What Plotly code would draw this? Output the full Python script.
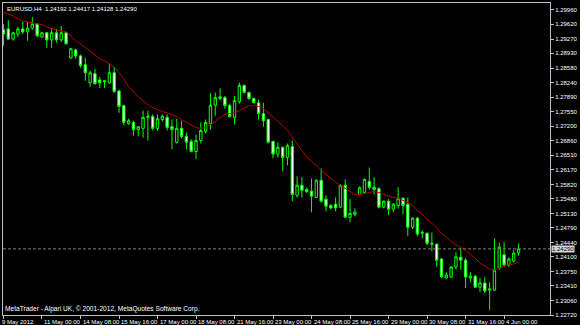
import plotly.graph_objects as go

symbol = "EURUSD,H4"

opens = [
    1.2949, 1.2951, 1.2927, 1.2939, 1.2951, 1.2944, 1.2953, 1.2963, 1.2932, 1.2942,
    1.2925, 1.2942, 1.2925, 1.2942, 1.2882, 1.2901, 1.2887, 1.2866, 1.2823, 1.2845,
    1.2830, 1.2828, 1.2823, 1.2847, 1.2804, 1.2769, 1.2726, 1.2729, 1.2712, 1.2715,
    1.2741, 1.2743, 1.2715, 1.2736, 1.2741, 1.2719, 1.2682, 1.2715, 1.2696, 1.2684,
    1.2660, 1.2686, 1.2708, 1.2726, 1.2770, 1.2786, 1.2788, 1.2769, 1.2741, 1.2778,
    1.2817, 1.2800, 1.2786, 1.2776, 1.2750, 1.2736, 1.2684, 1.2654, 1.2670, 1.2646,
    1.2672, 1.2556, 1.2580, 1.2570, 1.2566, 1.2551, 1.2592, 1.2547, 1.2532, 1.2535,
    1.2528, 1.2580, 1.2504, 1.2511, 1.2558, 1.2563, 1.2589, 1.2575, 1.2572, 1.2528,
    1.2542, 1.2523, 1.2532, 1.2549, 1.2535, 1.2480, 1.2502, 1.2466, 1.2466, 1.2440,
    1.2440, 1.2405, 1.2360, 1.2362, 1.2386, 1.2409, 1.2402, 1.2360, 1.2364, 1.2338,
    1.2348, 1.2331, 1.2331, 1.2383, 1.2415, 1.2391, 1.2400, 1.24192]

highs = [
    1.2962, 1.2972, 1.2944, 1.2956, 1.2968, 1.2968, 1.2979, 1.2965, 1.2944, 1.2944,
    1.2953, 1.2951, 1.2958, 1.2944, 1.2906, 1.2904, 1.2890, 1.2882, 1.2852, 1.2856,
    1.2837, 1.2830, 1.2868, 1.2861, 1.2807, 1.2771, 1.2738, 1.2733, 1.2719, 1.2757,
    1.2757, 1.2748, 1.2748, 1.2748, 1.2748, 1.2736, 1.2738, 1.2733, 1.2705, 1.2689,
    1.2700, 1.2729, 1.2736, 1.2798, 1.2800, 1.2810, 1.2792, 1.2774, 1.2792, 1.2824,
    1.2819, 1.2802, 1.2788, 1.2783, 1.2776, 1.2738, 1.2686, 1.2682, 1.2672, 1.2679,
    1.2686, 1.2601, 1.2599, 1.2575, 1.2596, 1.2594, 1.2620, 1.2556, 1.2535, 1.2551,
    1.2582, 1.2594, 1.2547, 1.2525, 1.2577, 1.2596, 1.2622, 1.2599, 1.2575, 1.2544,
    1.2547, 1.2537, 1.2575, 1.2551, 1.2551, 1.2504, 1.2504, 1.2473, 1.2468, 1.2468,
    1.2442, 1.2407, 1.2374, 1.2388, 1.2421, 1.2430, 1.2407, 1.2374, 1.2367, 1.2360,
    1.2362, 1.2350, 1.2454, 1.2444, 1.2445, 1.2409, 1.2426, 1.24417]

lows = [
    1.2911, 1.2925, 1.2923, 1.2932, 1.2939, 1.2923, 1.2949, 1.2932, 1.2930, 1.2906,
    1.2906, 1.2918, 1.2920, 1.2913, 1.2880, 1.2880, 1.2859, 1.2828, 1.2814, 1.2819,
    1.2811, 1.2811, 1.2821, 1.2800, 1.2752, 1.2722, 1.2724, 1.2698, 1.2696, 1.2693,
    1.2686, 1.2710, 1.2710, 1.2731, 1.2710, 1.2665, 1.2679, 1.2691, 1.2665, 1.2658,
    1.2642, 1.2679, 1.2703, 1.2712, 1.2745, 1.2782, 1.2762, 1.2741, 1.2724, 1.2774,
    1.2798, 1.2782, 1.2774, 1.2736, 1.2719, 1.2679, 1.2644, 1.2646, 1.2613, 1.2627,
    1.2542, 1.2551, 1.2551, 1.2561, 1.2516, 1.2550, 1.2539, 1.2518, 1.2523, 1.2518,
    1.2526, 1.2503, 1.2492, 1.2506, 1.2556, 1.2561, 1.2570, 1.2558, 1.2525, 1.2525,
    1.2509, 1.2516, 1.2525, 1.2511, 1.2459, 1.2476, 1.2459, 1.2454, 1.2438, 1.2423,
    1.2386, 1.2360, 1.2357, 1.2360, 1.2381, 1.2379, 1.2336, 1.2350, 1.2336, 1.2326,
    1.2324, 1.2284, 1.2329, 1.2379, 1.2386, 1.2386, 1.2397, 1.24128]

closes = [
    1.2939, 1.2927, 1.2942, 1.2951, 1.2944, 1.2953, 1.2963, 1.2935, 1.2942, 1.2925,
    1.2942, 1.2925, 1.2942, 1.2916, 1.2904, 1.2887, 1.2864, 1.2847, 1.2847, 1.2821,
    1.2823, 1.2826, 1.2847, 1.2802, 1.2767, 1.2729, 1.2733, 1.2712, 1.2719, 1.2741,
    1.2744, 1.2715, 1.2738, 1.2744, 1.2717, 1.2712, 1.2715, 1.2696, 1.2682, 1.2660,
    1.2686, 1.2710, 1.2729, 1.2770, 1.2788, 1.2790, 1.2769, 1.2743, 1.2781, 1.2817,
    1.2800, 1.2786, 1.2776, 1.2750, 1.2733, 1.2682, 1.2654, 1.2670, 1.2646, 1.2674,
    1.2558, 1.2580, 1.2568, 1.2565, 1.2554, 1.2592, 1.2542, 1.2530, 1.2526, 1.2526,
    1.2580, 1.2504, 1.2513, 1.2516, 1.2574, 1.2594, 1.2575, 1.2570, 1.2528, 1.2542,
    1.2523, 1.2535, 1.2549, 1.2532, 1.2480, 1.2502, 1.2464, 1.2468, 1.2442, 1.2442,
    1.2402, 1.2363, 1.2367, 1.2386, 1.2410, 1.2402, 1.2362, 1.2364, 1.2338, 1.2348,
    1.2329, 1.2334, 1.2378, 1.2433, 1.2391, 1.2405, 1.2419, 1.24290]

ma_values = [
    1.2991, 1.2987, 1.2982, 1.2975, 1.2970, 1.2968, 1.2965, 1.2963, 1.2961, 1.2956,
    1.2951, 1.2949, 1.2946, 1.2944, 1.2935, 1.2923, 1.2916, 1.2906, 1.2899, 1.2889,
    1.2880, 1.2875, 1.2868, 1.2861, 1.2847, 1.2833, 1.2814, 1.2802, 1.2790, 1.2781,
    1.2771, 1.2764, 1.2759, 1.2755, 1.2752, 1.2748, 1.2743, 1.2736, 1.2729, 1.2722,
    1.2717, 1.2715, 1.2717, 1.2724, 1.2731, 1.2741, 1.2748, 1.2750, 1.2752, 1.2757,
    1.2764, 1.2769, 1.2769, 1.2767, 1.2762, 1.2752, 1.2743, 1.2733, 1.2722, 1.2710,
    1.2693, 1.2677, 1.2662, 1.2648, 1.2636, 1.2627, 1.2615, 1.2606, 1.2596, 1.2587,
    1.2580, 1.2572, 1.2565, 1.2558, 1.2558, 1.2561, 1.2563, 1.2565, 1.2563, 1.2558,
    1.2554, 1.2551, 1.2549, 1.2544, 1.2539, 1.2532, 1.2520, 1.2511, 1.2499, 1.2490,
    1.2478, 1.2466, 1.2457, 1.2447, 1.2438, 1.2433, 1.2426, 1.2416, 1.2407, 1.2395,
    1.2388, 1.2381, 1.2379, 1.2383, 1.2388, 1.2391, 1.2393, 1.2398]

time_tick_bars = [0, 8, 16, 24, 32, 40, 48, 56, 64, 72, 80, 88, 96, 104]
time_tick_labels = ["9 May 2012", "11 May 00:00", "14 May 08:00", "15 May 16:00",
                    "17 May 00:00", "18 May 08:00", "21 May 16:00", "23 May 00:00",
                    "24 May 08:00", "25 May 16:00", "29 May 00:00", "30 May 08:00",
                    "31 May 16:00", "4 Jun 00:00"]

price_ticks = [1.29960, 1.29620, 1.29270, 1.28930, 1.28580, 1.28240, 1.27890,
               1.27550, 1.27200, 1.26860, 1.26510, 1.26170, 1.25820, 1.25480,
               1.25130, 1.24790, 1.24440, 1.24100, 1.23750, 1.23410, 1.23060,
               1.22720]

copyright_text = "MetaTrader - Alpari UK, \u00a9 2001-2012, MetaQuotes Software Corp."

bars = list(range(len(closes)))
FONT = "Liberation Sans, Arial, sans-serif"
FG = "#C0C0C0"
TXT = "#FFFFFF"

fig = go.Figure()
fig.add_trace(go.Candlestick(
    x=bars, open=opens, high=highs, low=lows, close=closes,
    increasing=dict(line=dict(color="#00FF00", width=1), fillcolor="#000000"),
    decreasing=dict(line=dict(color="#00FF00", width=1), fillcolor="#FFFFFF"),
    whiskerwidth=0, hoverinfo="skip", showlegend=False))
fig.add_trace(go.Scatter(
    x=bars, y=ma_values, mode="lines",
    line=dict(color="#B00000", width=1), hoverinfo="skip", showlegend=False))

bid = closes[-1]
fig.add_shape(type="line", xref="paper", x0=0, x1=1, yref="y", y0=bid, y1=bid,
              line=dict(color="#808080", width=1, dash="3px,2px"))

annotations = []
annotations.append(dict(
    text=f"{symbol}  {opens[-1]:.5f} {highs[-1]:.5f} {lows[-1]:.5f} {closes[-1]:.5f}",
    xref="paper", yref="paper", x=0, y=1, xanchor="left", yanchor="top",
    xshift=2, yshift=-1, showarrow=False, font=dict(family=FONT, size=6, color=TXT)))
annotations.append(dict(
    text=copyright_text, xref="paper", yref="paper", x=0, y=0,
    xanchor="left", yanchor="bottom", xshift=0, yshift=0, showarrow=False,
    font=dict(family=FONT, size=6.6, color=TXT)))
annotations.append(dict(
    text=f"{bid:.5f}", xref="paper", yref="y", x=1, y=bid, xanchor="left",
    yanchor="middle", xshift=1, showarrow=False, bgcolor="#D8D8D8", borderpad=0,
    font=dict(family=FONT, size=6, color="#000000")))
for b, lab in zip(time_tick_bars, time_tick_labels):
    annotations.append(dict(
        text=lab, xref="x", yref="paper", x=b, y=0, xanchor="left", yanchor="top",
        xshift=-3 if b == 0 else 0, yshift=-2, showarrow=False,
        font=dict(family=FONT, size=6, color=TXT)))

fig.update_layout(
    width=580, height=325,
    margin=dict(l=2, r=24, t=2, b=10),
    paper_bgcolor="#000000", plot_bgcolor="#000000",
    showlegend=False,
    annotations=annotations,
    xaxis=dict(range=[-0.1, 113.54], showgrid=False, zeroline=False,
               showline=True, mirror=True, linecolor=FG, linewidth=1,
               tickvals=time_tick_bars, showticklabels=False,
               ticks="outside", ticklen=3, tickcolor=FG,
               rangeslider=dict(visible=False), fixedrange=True),
    yaxis=dict(range=[1.22720, 1.30126], side="right", showgrid=False,
               zeroline=False, showline=True, mirror=True, linecolor=FG,
               linewidth=1, tickvals=price_ticks,
               ticktext=[f"{v:.5f}" for v in price_ticks],
               ticks="outside", ticklen=3, tickcolor=FG,
               tickfont=dict(family=FONT, size=6, color=TXT), fixedrange=True),
)

fig.write_html("out.html")
